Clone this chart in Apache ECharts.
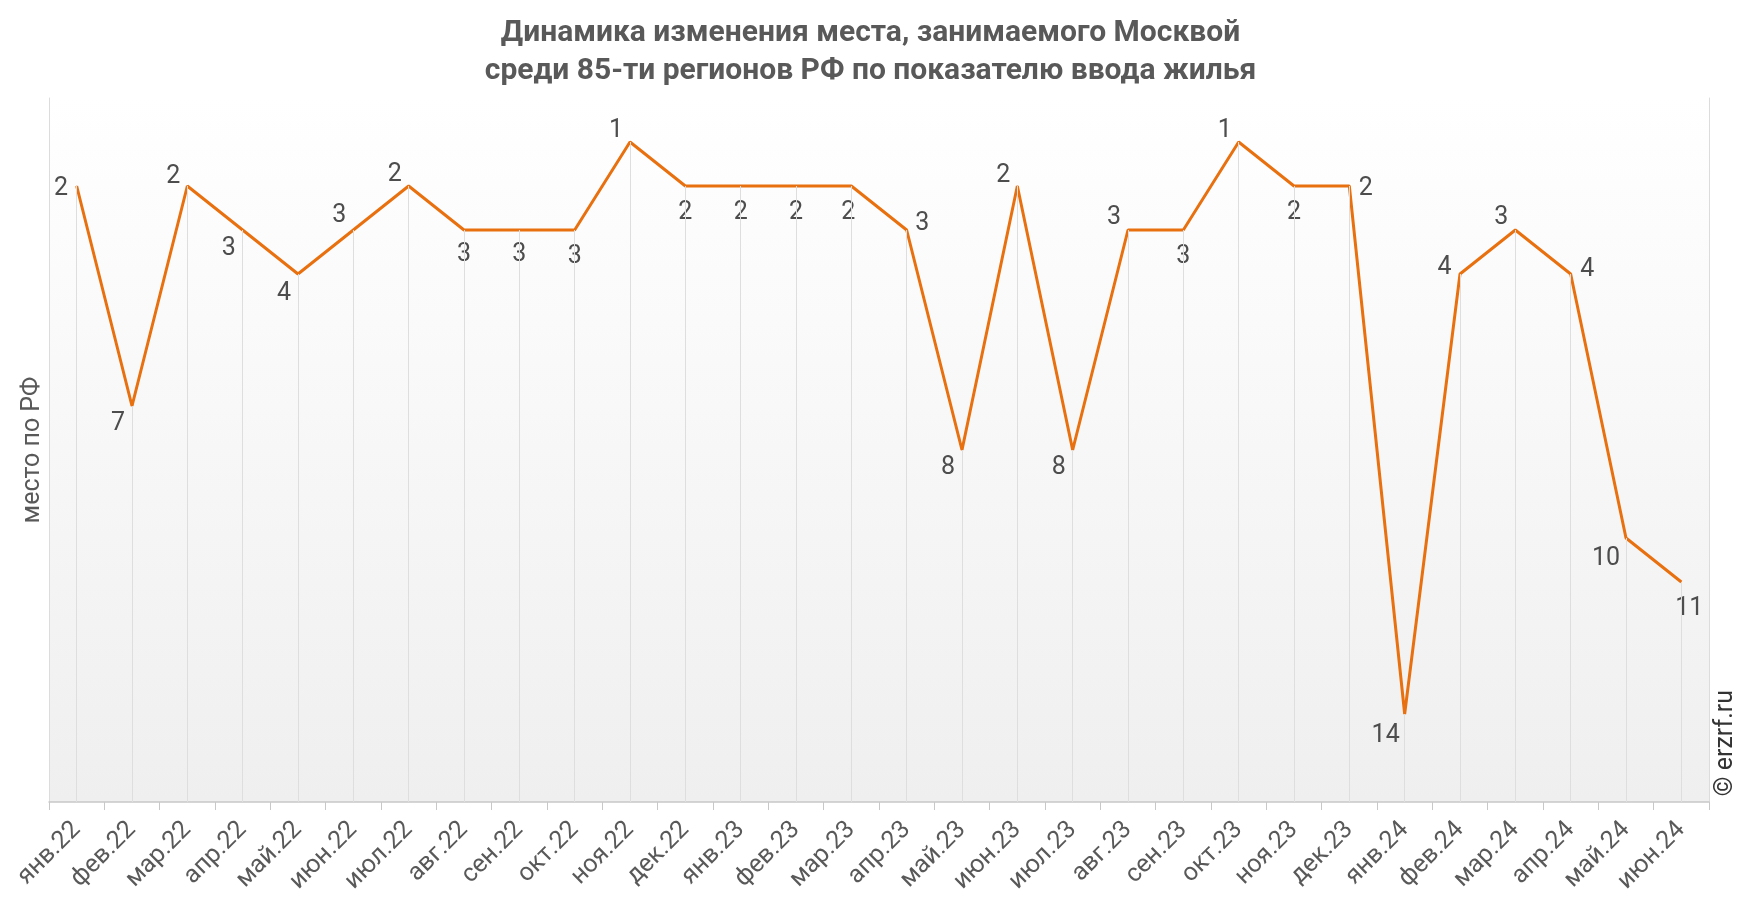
<!DOCTYPE html>
<html>
<head>
<meta charset="utf-8">
<style>
  html, body { margin: 0; padding: 0; background: #ffffff; }
  #chart { width: 1741px; height: 912px; }
</style>
<script src="https://cdn.jsdelivr.net/npm/echarts@6/dist/echarts.min.js"></script>
</head>
<body>
<div id="chart"></div>
<script>
const categories = ['янв.22','фев.22','мар.22','апр.22','май.22','июн.22','июл.22','авг.22','сен.22','окт.22','ноя.22','дек.22',
  'янв.23','фев.23','мар.23','апр.23','май.23','июн.23','июл.23','авг.23','сен.23','окт.23','ноя.23','дек.23',
  'янв.24','фев.24','мар.24','апр.24','май.24','июн.24'];
const ranks = [2,7,2,3,4,3,2,3,3,3,1,2, 2,2,2,3,8,2,8,3,3,1,2,2, 14,4,3,4,10,11];
const titleText = 'Динамика изменения места, занимаемого Москвой\nсреди 85-ти регионов РФ по показателю ввода жилья';
const yAxisName = 'место по РФ';
const watermark = '© erzrf.ru';
const yMin = 0, yMax = 16;

// label placement per point: [position, dx, dy]
const labelPlacement = [
  ['left',-3,3],['bottom',-14,0],['top',-14,9],['bottom',-14,1],['bottom',-14,2],['top',-14,4],['top',-14,7],
  ['bottom',0,7],['bottom',0,7],['bottom',0,9],['top',-14,7],['bottom',0,9],
  ['bottom',0,9],['bottom',0,9],['bottom',-3,9],['right',3,-6],['bottom',-14,0],['top',-14,8],['bottom',-14,0],
  ['top',-14,6],['bottom',0,9],['top',-14,7],['bottom',0,9],['right',4,3],
  ['bottom',-19,4],['left',-3,-6],['top',-14,6],['right',4,-4],['bottom',-20,3],['bottom',8,9]
];

const chart = echarts.init(document.getElementById('chart'));

const lineData = ranks.map((v, i) => ({
  value: v,
  label: { position: labelPlacement[i][0], offset: [labelPlacement[i][1], labelPlacement[i][2]] }
}));

const dropLines = ranks.map((v, i) => [
  { coord: [i, v] },
  { coord: [i, yMax] }
]);

chart.setOption({
  animation: false,
  backgroundColor: '#ffffff',
  title: {
    text: titleText,
    left: 'center',
    top: 9,
    textStyle: {
      fontFamily: 'Roboto',
      fontWeight: 'bold',
      fontSize: 30,
      lineHeight: 38,
      color: '#595959'
    }
  },
  grid: {
    left: 49, right: 32, top: 98, bottom: 110,
    show: true,
    borderWidth: 0,
    backgroundColor: {
      type: 'linear', x: 0, y: 0, x2: 0, y2: 1,
      colorStops: [
        { offset: 0, color: '#ffffff' },
        { offset: 1, color: '#efefef' }
      ]
    }
  },
  xAxis: {
    type: 'category',
    data: categories,
    boundaryGap: true,
    axisLine: { show: true, onZero: false, lineStyle: { color: '#c8c8c8', width: 1.5 } },
    axisTick: { show: true, interval: 0, length: 8, lineStyle: { color: '#c8c8c8' } },
    axisLabel: {
      interval: 0, rotate: 45, margin: 24,
      fontFamily: 'Roboto', fontSize: 25, color: '#595959'
    },
    splitLine: { show: false }
  },
  yAxis: [
    {
      type: 'value', inverse: true, min: yMin, max: yMax,
      name: yAxisName, nameLocation: 'middle', nameGap: 4,
      nameTextStyle: { fontFamily: 'Roboto', fontSize: 25, color: '#595959' },
      axisLine: { show: true, onZero: false, lineStyle: { color: '#dcdcdc' } },
      axisTick: { show: false },
      axisLabel: { show: false },
      splitLine: { show: false }
    },
    {
      type: 'value', inverse: true, min: yMin, max: yMax, position: 'right',
      axisLine: { show: true, onZero: false, lineStyle: { color: '#dcdcdc' } },
      axisTick: { show: false },
      axisLabel: { show: false },
      splitLine: { show: false }
    }
  ],
  series: [
    {
      type: 'line',
      data: lineData,
      yAxisIndex: 0,
      symbol: 'circle',
      symbolSize: 1,
      showSymbol: true,
      itemStyle: { color: '#e8700f' },
      lineStyle: { color: '#e8700f', width: 3 },
      label: {
        show: true,
        fontFamily: 'Roboto',
        fontSize: 25,
        color: '#4d4d4d'
      },
      markLine: {
        silent: true,
        symbol: ['none', 'none'],
        label: { show: false },
        lineStyle: { color: '#dedede', width: 1, type: 'solid' },
        data: dropLines
      },
      z: 3
    }
  ],
  graphic: [
    {
      type: 'text',
      left: 1713,
      top: 690,
      rotation: Math.PI / 2,
      style: {
        text: watermark,
        fontFamily: 'Roboto',
        fontSize: 25,
        fill: '#333333'
      }
    }
  ]
});
</script>
</body>
</html>
